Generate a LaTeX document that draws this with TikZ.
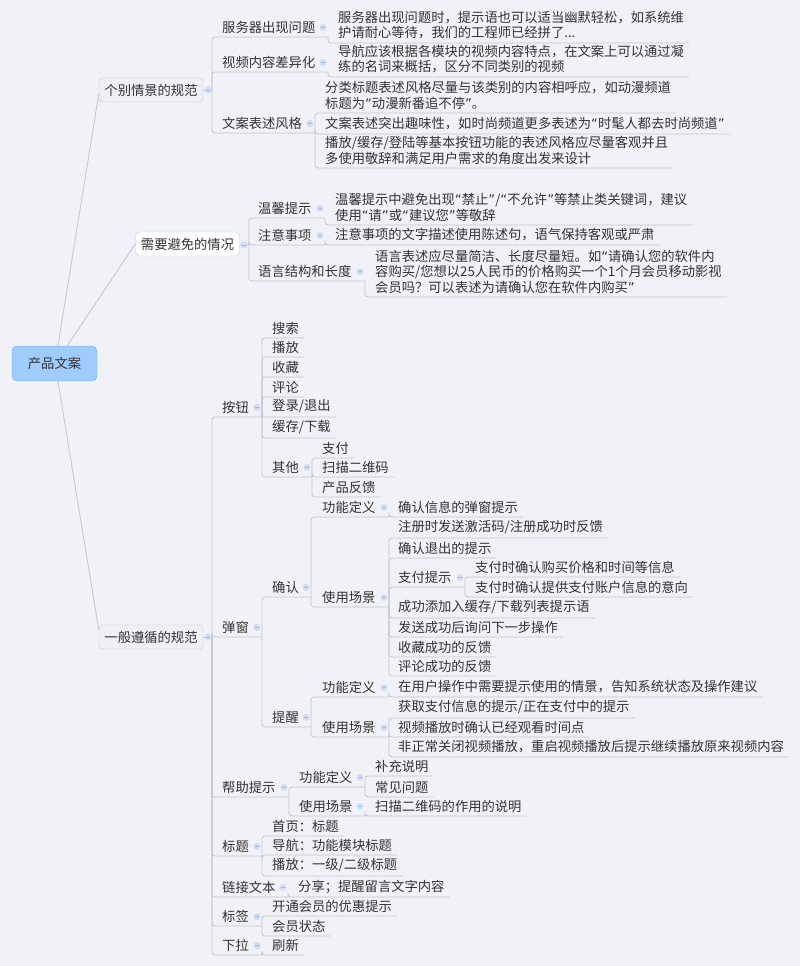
\documentclass[tikz,border=0pt]{standalone}
\usepackage{fontspec}
\setmainfont{Noto Sans CJK SC}
\newfontfamily\qtfont{DejaVu Sans}
\newcommand\Lq{{\qtfont “}}
\newcommand\Rq{{\qtfont ”}}
\usetikzlibrary{calc}
\definecolor{bg}{HTML}{F1F2F7}
\definecolor{ln}{HTML}{C5C7CD}
\definecolor{tx}{HTML}{333333}
\definecolor{rootf}{HTML}{9FCBFD}
\definecolor{rootd}{HTML}{80A9D8}
\definecolor{boxf}{HTML}{EEF0F6}
\definecolor{boxd}{HTML}{C6C8CE}
\definecolor{dotf}{HTML}{CFDDF6}
\definecolor{dotm}{HTML}{9DB8E8}
\tikzset{
  txt/.style={font=\fontsize{13.3}{15.5}\selectfont, text=tx, inner xsep=0pt, inner ysep=3.5pt, anchor=south west, align=left},
  conn/.style={draw=ln, line width=0.85pt, rounded corners=3pt},
  rootln/.style={draw=ln, line width=0.85pt},
  bbox/.style={draw=boxd, fill=boxf, rounded corners=4pt, minimum width=104pt, minimum height=24pt, inner sep=0pt, font=\fontsize{13.3}{15.5}\selectfont, text=tx},
  mdot/.style={circle, fill=dotf, inner sep=0pt, minimum size=7pt}
}
\newcommand\mkdot[2]{\node[mdot] (#1) at (#2) {}; \draw[dotm, line width=0.6pt] ([xshift=-1.7pt]#1.center) -- ([xshift=1.7pt]#1.center);}
\newcommand\pnode[6]{%
  \node[txt] (#1) at (#3,#4) {#6};
  \coordinate (#1-t) at (#5,#4);
  \draw[conn] (#2) |- (#1-t);
  \mkdot{#1-d}{$(#1-t)+(-5,-9.5)$}}
\newcommand\lnode[5]{%
  \node[txt] (#1) at (#3,#4) {#5};
  \draw[conn] (#2) |- ($(#1.south east)+(5,0)$);}
\begin{document}
\begin{tikzpicture}[x=1pt,y=-1pt]
\useasboundingbox (0,0) rectangle (800,966);
\fill[bg] (0,0) rectangle (800,966);

% root and main branches
\node[bbox, draw=rootd, fill=rootf, minimum width=85pt, minimum height=35pt, rounded corners=5pt] (root) at (54.5,363.5) {产品文案};
\node[bbox] (b1) at (151,90) {个别情景的规范};
\node[bbox, fill=white] (b2) at (187.5,244) {需要避免的情况};
\node[bbox] (b3) at (151,637) {一般遵循的规范};
\draw[rootln] ($(root.north west)!0.54!(root.north east)$) -- ($(b1.west)+(0,4)$);
\draw[rootln] ($(root.north west)!0.65!(root.north east)$) -- (b2.west);
\draw[rootln] ($(root.south west)!0.54!(root.south east)$) -- ($(b3.west)+(0,-7)$);

\coordinate (b1-t) at (212,90);
\coordinate (b2-t) at (249,245);
\coordinate (b3-t) at (212,637);
\draw[conn] (b1.east) -- (b1-t);
\draw[conn] (b2.east) -- (b2-t);
\draw[conn] (b3.east) -- (b3-t);
\mkdot{b1-d}{208,90}
\mkdot{b2-d}{244,245}
\mkdot{b3-d}{208,637}

% ---- branch 1
\pnode{n11}{b1-t}{222}{37}{328}{服务器出现问题}
\lnode{l111}{n11-t}{338}{43}{服务器出现问题时，提示语也可以适当幽默轻松，如系统维\\护请耐心等待，我们的工程师已经拼了...}
\pnode{n12}{b1-t}{222}{72}{328}{视频内容差异化}
\lnode{l121}{n12-t}{338}{77}{导航应该根据各模块的视频内容特点，在文案上可以通过凝\\练的名词来概括，区分不同类别的视频}
\pnode{n13}{b1-t}{222}{133}{315}{文案表述风格}
\lnode{l131}{n13-t}{325}{113}{分类标题表述风格尽量与该类别的内容相呼应，如动漫频道\\标题为\Lq 动漫新番追不停\Rq 。}
\lnode{l132}{n13-t}{325}{134}{文案表述突出趣味性，如时尚频道更多表述为\Lq 时髦人都去时尚频道\Rq}
\lnode{l133}{n13-t}{325}{168}{播放/缓存/登陆等基本按钮功能的表述风格应尽量客观并且\\多使用敬辞和满足用户需求的角度出发来设计}

% ---- branch 2
\pnode{n21}{b2-t}{258}{218}{325}{温馨提示}
\lnode{l211}{n21-t}{335}{225}{温馨提示中避免出现\Lq 禁止\Rq/\Lq 不允许\Rq 等禁止类关键词，建议\\使用\Lq 请\Rq 或\Lq 建议您\Rq 等敬辞}
\pnode{n22}{b2-t}{258}{245}{325}{注意事项}
\lnode{l221}{n22-t}{335}{245}{注意事项的文字描述使用陈述句，语气保持客观或严肃}
\pnode{n23}{b2-t}{258}{281}{365}{语言结构和长度}
\lnode{l231}{n23-t}{375}{297}{语言表述应尽量简洁、长度尽量短。如\Lq 请确认您的软件内\\容购买/您想以25人民币的价格购买一个1个月会员移动影视\\会员吗？可以表述为请确认您在软件内购买\Rq}

% ---- branch 3
\pnode{n31}{b3-t}{222}{417}{262}{按钮}
\lnode{l311}{n31-t}{272}{338}{搜索}
\lnode{l312}{n31-t}{272}{357}{播放}
\lnode{l313}{n31-t}{272}{377}{收藏}
\lnode{l314}{n31-t}{272}{397}{评论}
\lnode{l315}{n31-t}{272}{417}{登录/退出}
\lnode{l316}{n31-t}{272}{438}{缓存/下载}
\pnode{n317}{n31-t}{272}{477}{312}{其他}
\lnode{l3171}{n317-t}{322}{458}{支付}
\lnode{l3172}{n317-t}{322}{477}{扫描二维码}
\lnode{l3173}{n317-t}{322}{497}{产品反馈}

\pnode{n32}{b3-t}{222}{637}{262}{弹窗}
\pnode{n321}{n32-t}{272}{597}{311}{确认}
\pnode{n3211}{n321-t}{322}{517}{389}{功能定义}
\lnode{l32111}{n3211-t}{398}{517}{确认信息的弹窗提示}
\pnode{n3212}{n321-t}{322}{607}{389}{使用场景}
\lnode{l32121}{n3212-t}{398}{538}{注册时发送激活码/注册成功时反馈}
\lnode{l32122}{n3212-t}{398}{558}{确认退出的提示}
\pnode{n32123}{n3212-t}{398}{587}{465}{支付提示}
\lnode{l321231}{n32123-t}{475}{577}{支付时确认购买价格和时间等信息}
\lnode{l321232}{n32123-t}{475}{597}{支付时确认提供支付账户信息的意向}
\lnode{l32124}{n3212-t}{398}{618}{成功添加入缓存/下载列表提示语}
\lnode{l32125}{n3212-t}{398}{637}{发送成功后询问下一步操作}
\lnode{l32126}{n3212-t}{398}{657}{收藏成功的反馈}
\lnode{l32127}{n3212-t}{398}{676}{评论成功的反馈}
\pnode{n322}{n32-t}{272}{727}{311}{提醒}
\pnode{n3221}{n322-t}{322}{697}{389}{功能定义}
\lnode{l32211}{n3221-t}{398}{697}{在用户操作中需要提示使用的情景，告知系统状态及操作建议}
\pnode{n3222}{n322-t}{322}{737}{389}{使用场景}
\lnode{l32221}{n3222-t}{398}{718}{获取支付信息的提示/正在支付中的提示}
\lnode{l32222}{n3222-t}{398}{737}{视频播放时确认已经观看时间点}
\lnode{l32223}{n3222-t}{398}{757}{非正常关闭视频播放，重启视频播放后提示继续播放原来视频内容}

\pnode{n33}{b3-t}{222}{797}{289}{帮助提示}
\pnode{n331}{n33-t}{299}{787}{365}{功能定义}
\lnode{l3311}{n331-t}{375}{776}{补充说明}
\lnode{l3312}{n331-t}{375}{797}{常见问题}
\pnode{n332}{n33-t}{299}{816}{365}{使用场景}
\lnode{l3321}{n332-t}{375}{816}{扫描二维码的作用的说明}

\pnode{n34}{b3-t}{222}{856}{262}{标题}
\lnode{l341}{n34-t}{272}{836}{首页：标题}
\lnode{l342}{n34-t}{272}{855}{导航：功能模块标题}
\lnode{l343}{n34-t}{272}{876}{播放：一级/二级标题}

\pnode{n35}{b3-t}{222}{897}{288}{链接文本}
\lnode{l351}{n35-t}{298}{897}{分享；提醒留言文字内容}

\pnode{n36}{b3-t}{222}{926}{262}{标签}
\lnode{l361}{n36-t}{272}{916}{开通会员的优惠提示}
\lnode{l362}{n36-t}{272}{936}{会员状态}

\pnode{n37}{b3-t}{222}{955}{262}{下拉}
\lnode{l371}{n37-t}{272}{955}{刷新}
\end{tikzpicture}
\end{document}
